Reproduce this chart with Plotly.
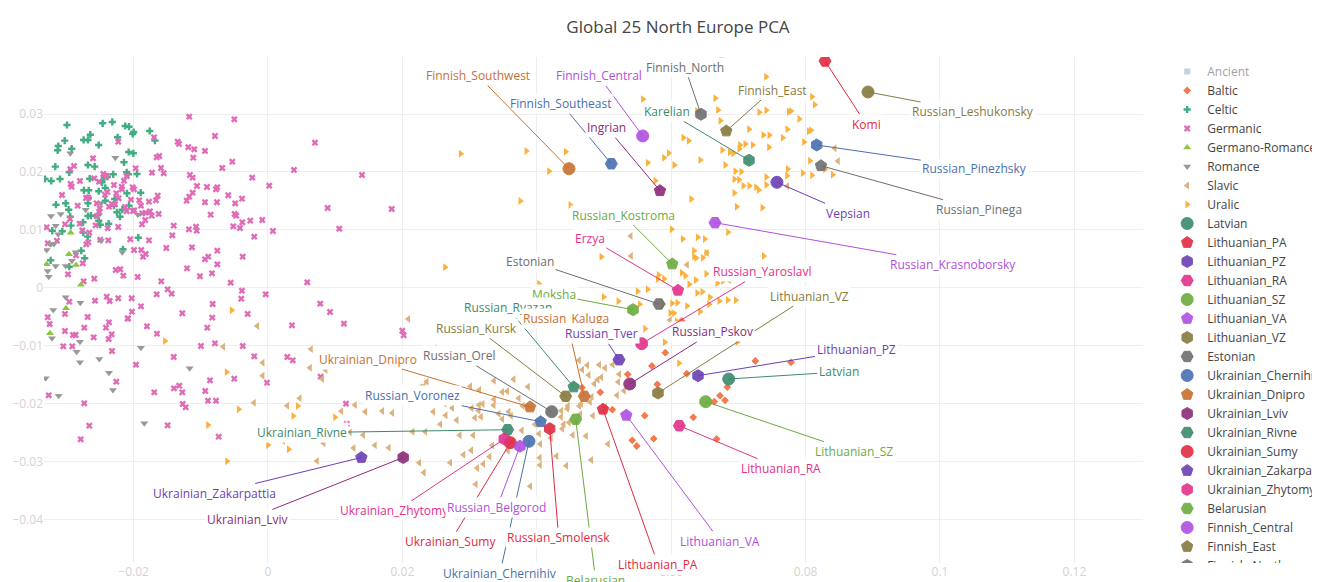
import plotly.graph_objects as go

# ---------------- background reference groups ----------------
# "Ancient" is hidden (legend only) in the chart, so no values can be read for it
ANCIENT_X = [None]
ANCIENT_Y = [None]

BALTIC_X = [0.06156, 0.05912, 0.05714, 0.07252, 0.07783, 0.06231, 0.05793, 0.06835, 0.06726, 0.06801,
            0.06641, 0.06329, 0.06677, 0.05740, 0.05353, 0.04945, 0.05124, 0.05606, 0.05421, 0.05487, 0.04673]
BALTIC_Y = [-0.00573, -0.01121, -0.01351, -0.01264, -0.01287, -0.01484, -0.01667, -0.01713, -0.01864, -0.01943,
            -0.01967, -0.02237, -0.02611, -0.02606, -0.01494, -0.01805, -0.02105, -0.02209, -0.02634, -0.02732, -0.01725]

CELTIC_X = [-0.02991, -0.02460, -0.02317, -0.02124, -0.02068, -0.01999, -0.02013, -0.01760, -0.01682, -0.02237,
            -0.02644, -0.02743, -0.02679, -0.02519, -0.03025, -0.03121, -0.03130, -0.02921, -0.02073, -0.02004,
            -0.02143, -0.03165, -0.02679, -0.02579, -0.02957, -0.03095, -0.03225, -0.03318, -0.02653, -0.02103,
            -0.02079, -0.01949, -0.02302, -0.02436, -0.02470, -0.02391, -0.02738, -0.02668, -0.02519, -0.02421,
            -0.02098, -0.01894, -0.03155, -0.03010, -0.02966, -0.02679, -0.02674, -0.02421, -0.02281, -0.02292,
            -0.02247, -0.02202, -0.02068, -0.02168, -0.02942, -0.02679, -0.02634, -0.02534, -0.02519, -0.02753,
            -0.02496, -0.02371, -0.03210, -0.03061, -0.02932, -0.02749, -0.02683, -0.02778, -0.02728, -0.02158,
            -0.01930, -0.02957, -0.03234]
CELTIC_Y = [0.02812, 0.02841, 0.02864, 0.02794, 0.02782, 0.02691, 0.02656, 0.02708, 0.02541, 0.02599,
            0.02644, 0.02553, 0.02553, 0.02466, 0.02541, 0.02449, 0.02375, 0.02402, 0.02345, 0.02323,
            0.02167, 0.02092, 0.02121, 0.02092, 0.01995, 0.01879, 0.01845, 0.01879, 0.01884, 0.01995,
            0.01960, 0.01965, 0.01960, 0.01902, 0.01822, 0.01919, 0.01684, 0.01684, 0.01667, 0.01724,
            0.01632, 0.01642, 0.01435, 0.01459, 0.01349, 0.01459, 0.01551, 0.01504, 0.01534, 0.01418,
            0.01304, 0.01228, 0.01418, 0.01349, 0.01228, 0.01240, 0.01245, 0.01252, 0.01159, 0.01131,
            0.01090, 0.01107, 0.00986, 0.00976, 0.01073, 0.00952, 0.00883, 0.00641, 0.00509, 0.00665,
            0.00865, 0.00364, 0.00475]

GERMANIC_X = [-0.01171, -0.00501, 0.00699, -0.00789, -0.01344, -0.01324, -0.01186, -0.01097, -0.00938, -0.01112,
              -0.00531, -0.00680, 0.00387, -0.00234, 0.00019, -0.01161, -0.01121, -0.01057, -0.00908, -0.00774,
              -0.00754, -0.01121, -0.01171, -0.01210, -0.00938, -0.00759, -0.00591, -0.00387, -0.00487, -0.00496,
              -0.00472, -0.00853, -0.00382, -0.00263, -0.00085, -0.00417, -0.00516, 0.00074, 0.00888, 0.01061,
              -0.01071, -0.01061, -0.01176, -0.01403, -0.01424, -0.01131, -0.00938, -0.00888, -0.00754, -0.00754,
              -0.00833, -0.01012, -0.01205, -0.01513, -0.01588, -0.01493, -0.01433, -0.01656, -0.01275, -0.00823,
              -0.00829, -0.00903, -0.00387, -0.00397, -0.00555, -0.00034, -0.00302, -0.00376, -0.00204, 0.00585,
              0.00778, 0.00923, 0.01131, 0.00357, -0.00376, -0.00789, -0.00997, -0.02228, -0.01696, -0.01656,
              -0.01618, -0.02604, -0.02887, -0.02942, -0.01969, -0.01726, -0.01592, -0.01552, -0.03065, -0.02921,
              -0.02798, -0.02936, -0.02585, -0.02515, -0.02451, -0.02400, -0.02292, -0.02143, -0.02103, -0.02013,
              -0.01994, -0.02173, -0.02257, -0.02426, -0.02391, -0.02674, -0.02708, -0.02832, -0.02549, -0.02510,
              -0.02549, -0.02366, -0.02326, -0.02222, -0.02177, -0.02103, -0.02009, -0.01871, -0.01820, -0.01756,
              -0.01627, -0.01731, -0.01826, -0.01875, -0.01771, -0.01667, -0.01641, -0.01890, -0.01915, -0.01990,
              -0.02039, -0.02128, -0.02277, -0.02504, -0.02946, -0.03021, -0.02802, -0.02763, -0.02659, -0.02385,
              -0.02228, -0.02496, -0.02376, -0.02564, -0.02704, -0.02674, -0.03140, -0.03278, -0.03293, -0.02857,
              -0.02757, -0.02976, -0.02743, -0.02585, -0.02266, -0.02198, -0.02153, -0.02049, -0.01994, -0.01885,
              -0.01820, -0.01860, -0.01771, -0.01939, -0.02957, -0.03278, -0.03249, -0.03021, -0.02902, -0.02862,
              -0.03021, -0.03046, -0.02912, -0.02734, -0.02683, -0.02574, -0.02356, -0.02400, -0.02228, -0.02028,
              -0.02024, -0.02088, -0.01890, -0.02326, -0.02366, -0.02411, -0.02594, -0.02371, -0.02321, -0.02257,
              -0.03263, -0.02734, -0.02659, -0.02787, -0.01964, -0.01692, -0.01493, -0.01399, -0.01320, -0.01275,
              -0.01269, -0.01225, -0.01403, -0.00933, -0.00893, -0.00774, -0.00863, -0.00734, -0.00501, -0.00204,
              -0.00015, 0.00287, 0.00368, 0.00784, -0.01801, -0.01652, -0.02083, 0.01399, 0.01841, 0.01999,
              0.02019, 0.01161, 0.01171]
GERMANIC_Y = [0.02955, 0.02910, 0.02506, 0.02622, 0.02523, 0.02484, 0.02427, 0.02392, 0.02363, 0.02247,
              0.02178, 0.02069, 0.02035, 0.01902, 0.01763, 0.01948, 0.01902, 0.01758, 0.01741, 0.01701,
              0.01736, 0.01642, 0.01573, 0.01504, 0.01477, 0.01477, 0.01598, 0.01539, 0.01459, 0.01275,
              0.01245, 0.01262, 0.01131, 0.01159, 0.01171, 0.01033, 0.01062, 0.00981, 0.01378, 0.01021,
              0.01055, 0.00986, 0.01010, 0.01073, 0.00907, 0.00699, 0.00492, 0.00537, 0.00641, 0.00406,
              0.00250, 0.00199, 0.00337, 0.00687, 0.00112, -0.00026, -0.00102, -0.00112, -0.00440, -0.00280,
              -0.00516, -0.00689, -0.00050, -0.00188, 0.00088, -0.00112, -0.00452, 0.00537, 0.00883, 0.00095,
              -0.00275, -0.00418, -0.00620, -0.00648, -0.01005, -0.00959, -0.01005, 0.02523, 0.02599, 0.02254,
              0.02276, 0.02237, 0.02104, 0.02047, 0.02064, 0.01988, 0.02069, 0.01978, 0.01603, 0.01746,
              0.01845, 0.01793, 0.01891, 0.01832, 0.01965, 0.01931, 0.01775, 0.01850, 0.01931, 0.01736,
              0.01701, 0.01701, 0.01632, 0.01608, 0.01655, 0.01556, 0.01551, 0.01418, 0.01459, 0.01309,
              0.01240, 0.01401, 0.01447, 0.01546, 0.01746, 0.01326, 0.01326, 0.01287, 0.01297, 0.01321,
              0.01275, 0.01245, 0.01171, 0.01097, 0.01487, 0.01511, 0.01591, 0.01418, 0.01511, 0.01338,
              0.01522, 0.01395, 0.01442, 0.01373, 0.01188, 0.01097, 0.01107, 0.00993, 0.00952, 0.01033,
              0.01050, 0.00831, 0.00820, 0.01079, 0.00751, 0.00786, 0.00813, 0.00769, 0.01045, 0.00561,
              0.00423, 0.00233, 0.00112, 0.00157, 0.00307, 0.00320, 0.00209, 0.00838, 0.00653, 0.00653,
              0.00584, 0.00537, 0.00820, 0.00187, -0.00240, -0.00509, -0.00625, -0.00452, -0.00815, -0.00815,
              -0.00746, -0.01010, -0.01010, -0.00689, -0.00504, -0.00223, -0.00228, -0.00154, -0.00181, -0.00181,
              -0.00413, -0.00534, -0.00320, -0.00803, -0.00596, -0.00689, -0.00855, -0.00884, -0.01092, -0.01622,
              -0.01857, -0.01995, -0.02382, -0.02617, -0.01328, -0.01805, -0.02375, -0.01736, -0.01691, -0.01805,
              -0.02007, -0.02064, -0.01195, -0.01782, -0.01950, -0.01950, -0.01598, -0.02572, -0.01570, -0.01183,
              -0.01639, -0.01195, -0.01252, -0.01535, -0.00665, -0.00793, -0.00527, 0.01948, 0.01361, -0.00741,
              -0.00820, -0.02002, -0.02352]

GERMANO_ROMANCE_X = [-0.02936, -0.02961, -0.02857, -0.03293, -0.02783, -0.03006, -0.03244]
GERMANO_ROMANCE_Y = [0.00952, 0.00579, 0.00394, 0.00406, 0.00054, -0.00354, -0.00786]

ROMANCE_X = [-0.02942, -0.02272, -0.03229, -0.03085, -0.01935, -0.02485, -0.02713, -0.02485, -0.03229, -0.03185,
             -0.03293, -0.03121, -0.03159, -0.02862, -0.02917, -0.02168, -0.03278, -0.03263, -0.03159, -0.03010,
             -0.03010, -0.02793, -0.03195, -0.03214, -0.02798, -0.01890, -0.02847, -0.02798, -0.02510, -0.02366,
             -0.02307, -0.03115, -0.01165, -0.01841, -0.03308]
ROMANCE_Y = [0.02323, 0.02247, 0.01240, 0.01275, 0.01262, 0.01459, 0.01349, 0.00813, 0.00751, 0.00756,
             0.00653, 0.00924, 0.01073, 0.00613, 0.00468, 0.00613, 0.00290, 0.00192, 0.00377, 0.00377,
             -0.00164, -0.00257, -0.00383, -0.00872, -0.00931, -0.01035, -0.01104, -0.01287, -0.01230, -0.01466,
             -0.01765, -0.01864, -0.01390, -0.02340, -0.01563]

SLAVIC_X = [0.02088, 0.00640, 0.02485, 0.02362, 0.02321, 0.02266, 0.02183, 0.02118, 0.02098, 0.01935,
            0.01945, 0.01850, 0.01701, 0.01582, 0.01448, 0.01295, 0.01091, 0.03010, 0.02734, 0.02629,
            0.02460, 0.03031, 0.03135, 0.03195, 0.03363, 0.03487, 0.03561, 0.03656, 0.03363, 0.03869,
            0.03731, 0.03790, 0.03582, 0.03433, 0.03487, 0.03170, 0.02808, 0.02564, 0.02341, 0.02153,
            0.01418, 0.01220, 0.00912, 0.00789, 0.03973, 0.04400, 0.04454, 0.04658, 0.04792, 0.04836,
            0.05019, 0.05194, 0.04906, 0.04960, 0.04752, 0.05015, 0.05130, 0.05213, 0.05298, 0.05402,
            0.04628, 0.04677, 0.04772, 0.04930, 0.04856, 0.05228, 0.04817, 0.04633, 0.04464, 0.04365,
            0.04360, 0.04380, 0.04534, 0.04647, 0.04732, 0.05060, 0.04811, 0.04439, 0.04033, 0.04052,
            0.04043, 0.03571, 0.03204, 0.03025, 0.03055, 0.02853, 0.03080, 0.03616, 0.03359, 0.03140,
            0.03144, 0.02743, 0.02644, -0.00159, -0.00665, -0.00208, -0.00079, -0.00079, 0.00625, 0.00859,
            0.00808, 0.00472, 0.00287, 0.00829, 0.00729, 0.00228, 0.01798, 0.01592, 0.01275, 0.02252,
            0.02320, 0.02711, 0.02909, 0.03113, 0.03092, 0.03296, 0.03338, 0.03631, 0.03777, 0.03902,
            0.04048, 0.04210, 0.04293, 0.04479, 0.05397, 0.06235, 0.06533, 0.08433, 0.08482, 0.07728,
            0.06860, 0.05982]
SLAVIC_Y = [-0.00539, -0.01057, -0.01045, -0.01622, -0.01696, -0.01718, -0.01869, -0.01915, -0.01960, -0.01788,
            -0.01864, -0.02162, -0.02128, -0.01864, -0.02140, -0.02024, -0.02133, -0.01701, -0.01829, -0.02002,
            -0.02140, -0.02081, -0.02123, -0.02007, -0.01926, -0.01800, -0.01788, -0.01580, -0.01604, -0.01708,
            -0.01908, -0.02041, -0.02140, -0.02174, -0.02266, -0.02226, -0.02288, -0.02357, -0.02485, -0.02485,
            -0.02542, -0.02496, -0.02611, -0.02530, -0.02357, -0.02357, -0.02088, -0.02007, -0.01972, -0.02209,
            -0.02054, -0.01857, -0.01587, -0.01546, -0.01338, -0.01385, -0.01328, -0.01627, -0.01777, 0.00549,
            -0.01252, -0.01414, -0.01506, -0.01328, -0.01656, -0.01494, -0.01881, -0.02041, -0.02036, -0.02123,
            -0.02231, -0.02433, -0.02542, -0.02185, -0.02560, -0.02698, -0.02974, -0.03072, -0.02520, -0.02698,
            -0.02934, -0.02813, -0.03043, -0.02807, -0.02547, -0.02547, -0.02243, -0.02209, -0.02029, -0.02024,
            -0.01765, -0.02076, -0.02202, -0.00660, -0.01017, -0.01984, -0.01294, -0.01518, -0.01380, -0.01420,
            -0.01575, -0.01908, -0.02036, -0.02686, -0.02991, -0.02646, -0.02762, -0.02720, -0.02767, -0.03022,
            -0.03192, -0.03022, -0.02883, -0.03114, -0.03392, -0.02919, -0.02725, -0.02653, -0.02465, -0.03428,
            -0.03059, -0.02592, -0.02907, -0.02326, 0.00895, 0.00399, 0.00601, 0.02409, 0.02190, 0.01758,
            0.00135, -0.00556]

URALIC_X = [0.02868, 0.03844, 0.04430, 0.04182, 0.03755, 0.04499, 0.05580, 0.05650, 0.05893, 0.05963,
            0.06046, 0.05763, 0.06180, 0.06260, 0.06433, 0.06299, 0.06007, 0.06171, 0.06394, 0.06499,
            0.06741, 0.07411, 0.06656, 0.06696, 0.06731, 0.07162, 0.07311, 0.07415, 0.07158, 0.06760,
            0.06871, 0.06805, 0.06954, 0.07043, 0.06939, 0.07009, 0.06939, 0.07073, 0.07162, 0.07262,
            0.07302, 0.07415, 0.07415, 0.07356, 0.06975, 0.07024, 0.07013, 0.07103, 0.07213, 0.07371,
            0.07460, 0.07659, 0.07728, 0.07749, 0.07783, 0.07906, 0.08046, 0.08080, 0.07976, 0.08095,
            0.08135, 0.07734, 0.07723, 0.07957, 0.08095, 0.08289, 0.08403, 0.07455, 0.08065, 0.06845,
            0.06339, 0.06522, 0.06339, 0.06469, 0.07377, 0.06384, 0.06924, 0.06156, 0.05814, 0.04960,
            0.05501, 0.05650, 0.05893, 0.06365, 0.06463, 0.06388, 0.06577, 0.06716, 0.06841, 0.06960,
            0.06771, 0.06012, 0.06091, 0.05987, 0.06042, 0.06235, 0.06429, 0.06563, 0.05213, 0.05531,
            -0.00540, -0.01533, -0.00615, -0.00436, -0.00893, 0.00000, 0.00308, -0.00610, 0.00376, 0.00442,
            0.00997, 0.02634, 0.04033, 0.04996, 0.05610, 0.06116, 0.06210, 0.06269, 0.06522, 0.06686,
            0.06373, 0.06790, 0.05878, 0.06082, 0.05903, 0.06984, 0.05799]
URALIC_Y = [0.02316, 0.02363, 0.02351, 0.02012, 0.01499, 0.01430, 0.03256, 0.02161, 0.02247, 0.02328,
            0.02121, 0.01850, 0.02592, 0.02541, 0.02207, 0.01534, 0.01010, 0.00843, 0.00872, 0.00843,
            0.03969, 0.03646, 0.03273, 0.03071, 0.02886, 0.03307, 0.03031, 0.03066, 0.02737, 0.02380,
            0.02340, 0.02121, 0.02012, 0.02005, 0.01874, 0.01867, 0.01637, 0.01763, 0.01763, 0.01736,
            0.01689, 0.01914, 0.01781, 0.01383, 0.01401, 0.02466, 0.02402, 0.02484, 0.02466, 0.02639,
            0.02634, 0.02592, 0.02737, 0.03041, 0.03053, 0.02915, 0.02703, 0.02720, 0.02518, 0.03300,
            0.03162, 0.02052, 0.01936, 0.01983, 0.01943, 0.02047, 0.01953, 0.02427, 0.02195, 0.00959,
            0.00641, 0.00606, 0.00537, 0.00520, 0.00549, 0.03059, 0.02323, 0.00261, 0.00221, 0.00537,
            -0.00060, -0.00026, 0.00157, 0.00135, -0.00067, -0.00090, -0.00164, -0.00228, -0.00211, -0.00216,
            0.00117, -0.00268, -0.00257, -0.00435, -0.00440, -0.00314, -0.00413, -0.00285, -0.00233, -0.00285,
            -0.00389, -0.00919, -0.01454, -0.02098, -0.02370, -0.02715, -0.02789, -0.02996, -0.02214, -0.02041,
            -0.02237, 0.00354, 0.00071, -0.00159, -0.00706, -0.01304, 0.00209, 0.00060, 0.00244, 0.00083,
            0.00515, 0.00174, -0.00280, -0.00579, -0.00941, -0.00936, 0.00152]

# ---------------- highlighted populations ----------------
POP_NAMES = ["Latvian", "Lithuanian_PA", "Lithuanian_PZ", "Lithuanian_RA", "Lithuanian_SZ", "Lithuanian_VA",
             "Lithuanian_VZ", "Estonian", "Ukrainian_Chernihiv", "Ukrainian_Dnipro", "Ukrainian_Lviv",
             "Ukrainian_Rivne", "Ukrainian_Sumy", "Ukrainian_Zakarpattia", "Ukrainian_Zhytomyr", "Belarusian",
             "Finnish_Central", "Finnish_East", "Finnish_North", "Finnish_Southeast", "Finnish_Southwest",
             "Ingrian", "Karelian", "Komi", "Vepsian", "Erzya", "Moksha", "Russian_Krasnoborsky",
             "Russian_Leshukonsky", "Russian_Pinega", "Russian_Pinezhsky", "Russian_Kaluga", "Russian_Pskov",
             "Russian_Ryazan", "Russian_Smolensk", "Russian_Tver", "Russian_Yaroslavl", "Russian_Kostroma",
             "Russian_Belgorod", "Russian_Kursk", "Russian_Orel", "Russian_Voronez"]
POP_X = [0.06856, 0.04985, 0.06399, 0.06121, 0.06513, 0.05332, 0.05804, 0.05818, 0.03884, 0.03899,
         0.02012, 0.03567, 0.03606, 0.01390, 0.03516, 0.04579, 0.05576, 0.06820, 0.06443, 0.05109,
         0.04479, 0.05833, 0.07158, 0.08289, 0.07574, 0.06101, 0.05432, 0.06652, 0.08929, 0.08229,
         0.08165, 0.04707, 0.05383, 0.04549, 0.04192, 0.05223, 0.05561, 0.06016, 0.03750, 0.04430,
         0.04222, 0.04058]
POP_Y = [-0.01575, -0.02098, -0.01518, -0.02382, -0.01967, -0.02202, -0.01817, -0.00280, -0.02651, -0.02059,
         -0.02931, -0.02451, -0.02675, -0.02931, -0.02611, -0.02271, 0.02622, 0.02708, 0.02997, 0.02143,
         0.02057, 0.01677, 0.02202, 0.03917, 0.01822, -0.00043, -0.00378, 0.01124, 0.03382, 0.02109,
         0.02466, -0.01874, -0.01661, -0.01713, -0.02433, -0.01242, -0.00965, 0.00411, -0.02737, -0.01874,
         -0.02140, -0.02313]

# label offsets (pixels from the point to the label centre)
LABEL_OFFSETS = {
    "Latvian": (110, -7), "Lithuanian_PA": (55, 155), "Lithuanian_PZ": (158, -26), "Lithuanian_RA": (102, 43),
    "Lithuanian_SZ": (148, 50), "Lithuanian_VA": (94, 126), "Lithuanian_VZ": (151, -97), "Estonian": (-129, -43),
    "Ukrainian_Chernihiv": (-29, 132), "Ukrainian_Dnipro": (-162, -48), "Ukrainian_Lviv": (-156, 62),
    "Ukrainian_Rivne": (-206, 3), "Ukrainian_Sumy": (-60, 99), "Ukrainian_Zakarpattia": (-147, 36),
    "Ukrainian_Zhytomyr": (-108, 72), "Belarusian": (20, 161), "Finnish_Central": (-44, -60),
    "Finnish_East": (46, -41), "Finnish_North": (-16, -47), "Finnish_Southeast": (-50, -60),
    "Finnish_Southwest": (-91, -93), "Ingrian": (-53, -63), "Karelian": (-82, -49), "Komi": (41, 63),
    "Vepsian": (71, 31), "Erzya": (-88, -52), "Moksha": (-79, -15), "Russian_Krasnoborsky": (238, 42),
    "Russian_Leshukonsky": (105, 20), "Russian_Pinega": (158, 44), "Russian_Pinezhsky": (158, 23),
    "Russian_Kaluga": (-18, -78), "Russian_Pskov": (83, -52), "Russian_Ryazan": (-66, -79),
    "Russian_Smolensk": (9, 109), "Russian_Tver": (-17, -26), "Russian_Yaroslavl": (120, -72),
    "Russian_Kostroma": (-49, -49), "Russian_Belgorod": (-23, 61), "Russian_Kursk": (-89, -68),
    "Russian_Orel": (-92, -56), "Russian_Voronez": (-128, -26),
}

PALETTE = ["#4a6fb0", "#c8702f", "#8c2a7a", "#3b8b6b", "#e02a3f", "#6b3fb3",
           "#e3318a", "#6aab3d", "#b04fe0", "#877a3e", "#6e6e6e"]
SYMBOLS = ["circle", "pentagon", "hexagon", "hexagon2"]

fig = go.Figure()

groups = [
    ("Ancient", ANCIENT_X, ANCIENT_Y, "square", "#8da0cb", 6, "legendonly"),
    ("Baltic", BALTIC_X, BALTIC_Y, "diamond", "#f4794e", 6, True),
    ("Celtic", CELTIC_X, CELTIC_Y, "cross", "#41ad80", 6, True),
    ("Germanic", GERMANIC_X, GERMANIC_Y, "x", "#e06cb8", 6, True),
    ("Germano-Romance", GERMANO_ROMANCE_X, GERMANO_ROMANCE_Y, "triangle-up", "#8cc63f", 7, True),
    ("Romance", ROMANCE_X, ROMANCE_Y, "triangle-down", "#999999", 7, True),
    ("Slavic", SLAVIC_X, SLAVIC_Y, "triangle-left", "#dcb27f", 7, True),
    ("Uralic", URALIC_X, URALIC_Y, "triangle-right", "#fbb13c", 7, True),
]
for name, xs, ys, sym, col, size, vis in groups:
    fig.add_trace(go.Scatter(x=xs, y=ys, mode="markers", name=name, visible=vis, showlegend=True,
                             marker=dict(symbol=sym, color=col, size=size)))

pop_colors = {}
for i, name in enumerate(POP_NAMES):
    col = PALETTE[(i + 3) % len(PALETTE)]
    pop_colors[name] = col
    fig.add_trace(go.Scatter(x=[POP_X[i]], y=[POP_Y[i]], mode="markers", name=name,
                             marker=dict(symbol=SYMBOLS[i % 4], color=col, size=12, opacity=0.9,
                                         line=dict(color=col, width=1))))

# annotation drawing order (later ones cover earlier ones)
order = list(POP_NAMES)
order.remove("Russian_Kaluga")
order.insert(order.index("Russian_Ryazan") + 1, "Russian_Kaluga")
annotations = []
for name in order:
    i = POP_NAMES.index(name)
    ax, ay = LABEL_OFFSETS[name]
    col = pop_colors[name]
    annotations.append(dict(x=POP_X[i], y=POP_Y[i], xref="x", yref="y", text=name,
                            showarrow=True, arrowhead=0, arrowwidth=1, arrowcolor=col,
                            ax=ax, ay=ay, font=dict(color=col, size=12), bgcolor="white"))

fig.update_layout(
    template="none",
    width=1340, height=640,
    margin=dict(l=36, r=205, t=49, b=85, autoexpand=False),
    paper_bgcolor="white", plot_bgcolor="white",
    font=dict(family='"Open Sans", verdana, arial, sans-serif', size=12, color="#444"),
    title=dict(text="Global 25 North Europe PCA", x=0.5, font=dict(size=17, color="#444")),
    xaxis=dict(range=[-0.03333, 0.13021], dtick=0.02, tick0=0, gridcolor="#eeeeee",
               zeroline=False, showline=False, ticks="", tickfont=dict(color="#d3d3d3", size=12)),
    yaxis=dict(range=[-0.04753, 0.03986], dtick=0.01, tick0=0, gridcolor="#eeeeee",
               zeroline=False, showline=False, ticks="", tickfont=dict(color="#d3d3d3", size=12)),
    legend=dict(x=1.022, y=1, font=dict(size=12, color="#444")),
    annotations=annotations,
)

fig.write_html("out.html")
